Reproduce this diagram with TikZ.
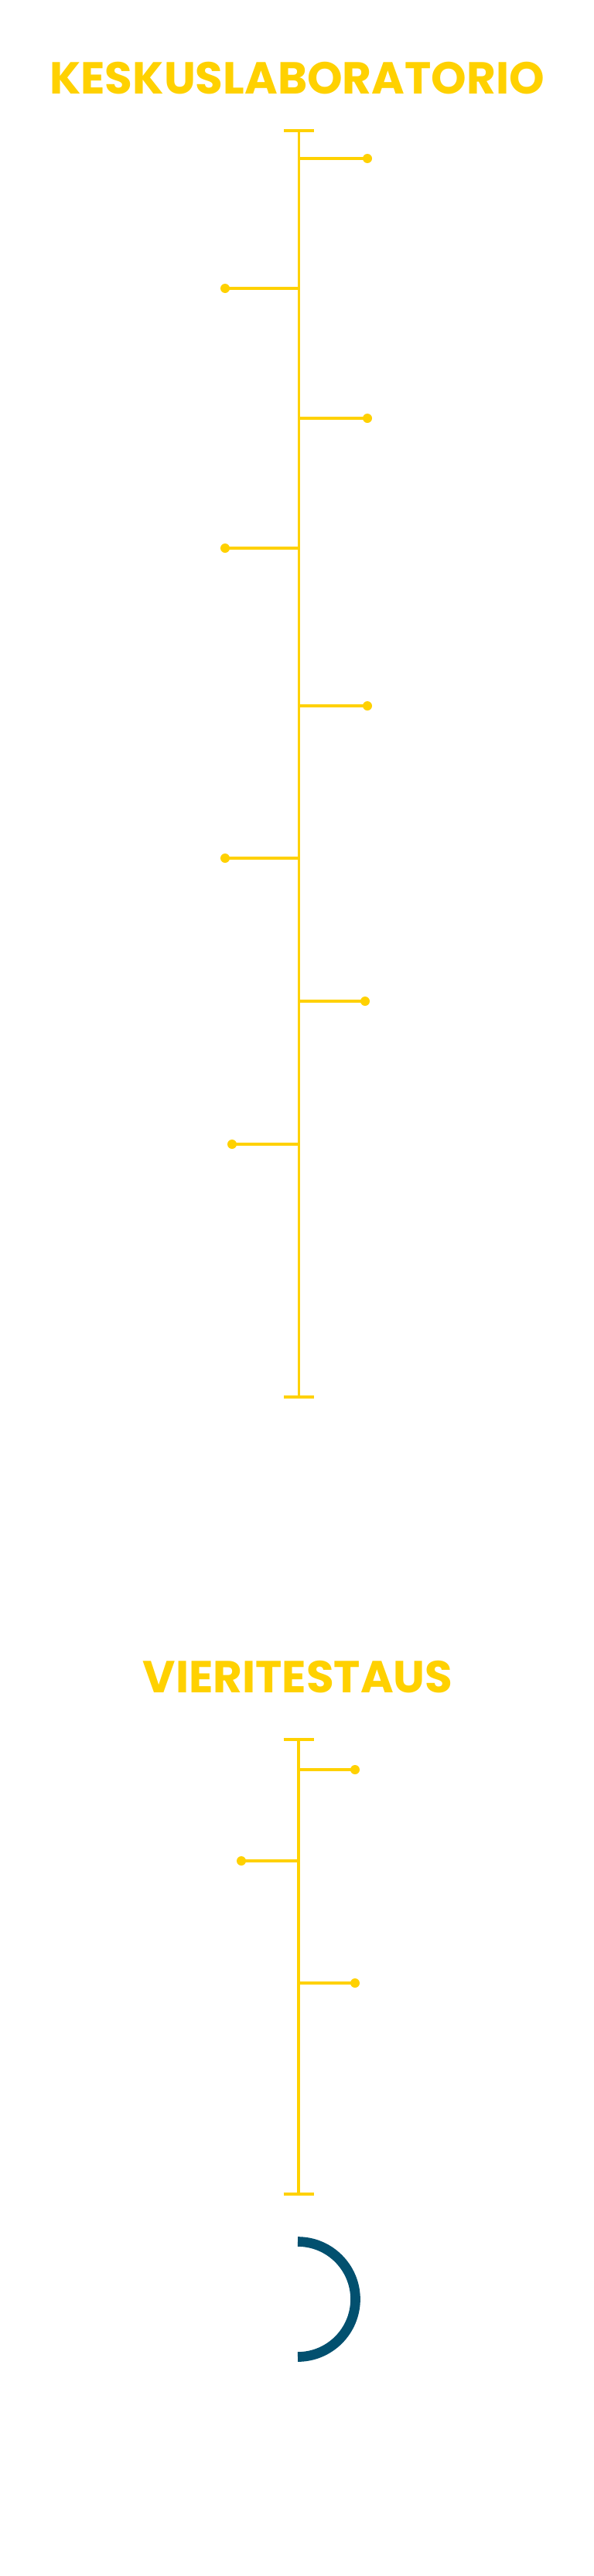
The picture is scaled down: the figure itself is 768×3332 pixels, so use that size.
\documentclass[tikz,border=0pt]{standalone}
\usepackage{fontspec}
\setmainfont{Poppins}
\definecolor{labyellow}{HTML}{FFD100}
\definecolor{labblue}{HTML}{02506F}
\tikzset{
	spine/.style={draw=labyellow, line width=3.3pt},
	knob/.style={circle, fill=labyellow, inner sep=0pt, minimum size=12pt},
	heading/.style={text=labyellow, font=\fontsize{58}{60}\selectfont\bfseries}
}
\begin{document}
\begin{tikzpicture}[x=1pt,y=-1pt]
	\useasboundingbox (0,0) rectangle (768,3332);

	\node[heading] (lab) at (384,101) {KESKUSLABORATORIO};
	\coordinate (labtop) at (386.5,169);
	\coordinate (labend) at (386.5,1807);
	\draw[spine] (labtop) -- (labend);
	\draw[spine] ([xshift=-19.5pt]labtop) -- ([xshift=19.5pt]labtop);
	\draw[spine] ([xshift=-19.5pt]labend) -- ([xshift=19.5pt]labend);

	\coordinate (l1) at (386.5,205);  \node[knob] (k1) at (475,205) {};
	\coordinate (l2) at (386.5,373);  \node[knob] (k2) at (291,373) {};
	\coordinate (l3) at (386.5,541);  \node[knob] (k3) at (475,541) {};
	\coordinate (l4) at (386.5,709);  \node[knob] (k4) at (291,709) {};
	\coordinate (l5) at (386.5,913);  \node[knob] (k5) at (475,913) {};
	\coordinate (l6) at (386.5,1110); \node[knob] (k6) at (291,1110) {};
	\coordinate (l7) at (386.5,1295); \node[knob] (k7) at (472,1295) {};
	\coordinate (l8) at (386.5,1480); \node[knob] (k8) at (300,1480) {};
	\draw[spine] (l1) -- (k1.center);
	\draw[spine] (l2) -- (k2.center);
	\draw[spine] (l3) -- (k3.center);
	\draw[spine] (l4) -- (k4.center);
	\draw[spine] (l5) -- (k5.center);
	\draw[spine] (l6) -- (k6.center);
	\draw[spine] (l7) -- (k7.center);
	\draw[spine] (l8) -- (k8.center);

	\node[heading] (poc) at (385,2169.5) {VIERITESTAUS};
	\coordinate (poctop) at (386,2250);
	\coordinate (pocend) at (386,2838);
	\draw[spine] (poctop) -- (pocend);
	\draw[spine] ([xshift=-19.5pt]poctop) -- ([xshift=19.5pt]poctop);
	\draw[spine] ([xshift=-19.5pt]pocend) -- ([xshift=19.5pt]pocend);

	\coordinate (p1) at (386,2289); \node[knob] (q1) at (459,2289) {};
	\coordinate (p2) at (386,2407); \node[knob] (q2) at (312,2407) {};
	\coordinate (p3) at (386,2565); \node[knob] (q3) at (459,2565) {};
	\draw[spine] (p1) -- (q1.center);
	\draw[spine] (p2) -- (q2.center);
	\draw[spine] (p3) -- (q3.center);

	\coordinate (ring) at (385,2974);
	\draw[labblue, line width=12.7pt] ([yshift=74.5pt]ring) arc (-90:90:74.5);
\end{tikzpicture}
\end{document}
